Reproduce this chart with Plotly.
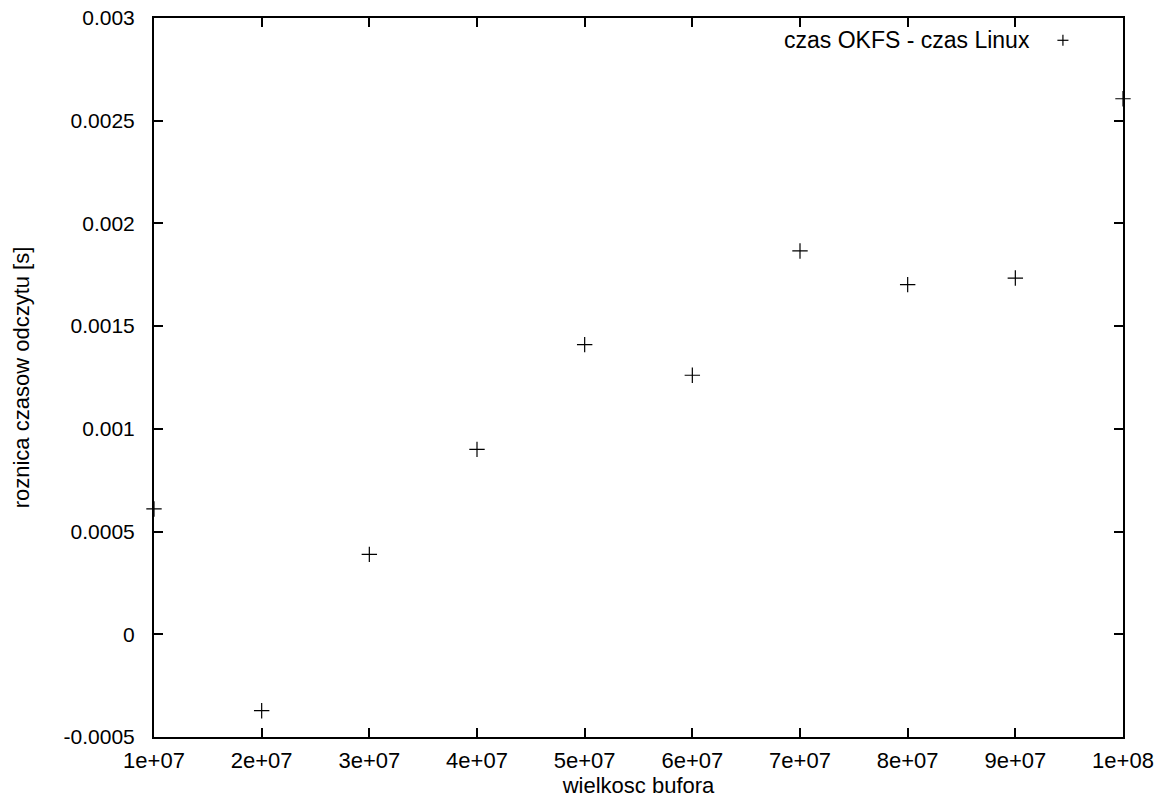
import plotly.graph_objects as go

buffer_sizes = [1e7, 2e7, 3e7, 4e7, 5e7, 6e7, 7e7, 8e7, 9e7, 1e8]
time_diff = [0.000610, -0.000372, 0.000389, 0.000900, 0.001410, 0.001261,
             0.001866, 0.001702, 0.001734, 0.002607]

x_tickvals = [1e7, 2e7, 3e7, 4e7, 5e7, 6e7, 7e7, 8e7, 9e7, 1e8]
x_ticktext = ["1e+07", "2e+07", "3e+07", "4e+07", "5e+07", "6e+07", "7e+07", "8e+07", "9e+07", "1e+08"]
y_tickvals = [-0.0005, 0, 0.0005, 0.001, 0.0015, 0.002, 0.0025, 0.003]
y_ticktext = ["-0.0005", "0", "0.0005", "0.001", "0.0015", "0.002", "0.0025", "0.003"]
series_name = "czas OKFS - czas Linux"

FONT = "Liberation Sans, Arial, sans-serif"
FS = 22

fig = go.Figure()
fig.add_trace(go.Scatter(
    x=buffer_sizes, y=time_diff, mode="markers", name=series_name,
    showlegend=False, cliponaxis=False,
    marker=dict(symbol="cross-thin", size=11, color="black",
                line=dict(color="black", width=1.2)),
))

axis_common = dict(
    showgrid=False, zeroline=False, showline=True, linecolor="black", linewidth=2,
    mirror="ticks", ticks="inside", ticklen=9, tickwidth=1.5, tickcolor="black",
    automargin=False,
)

fig.update_layout(
    width=1170, height=804,
    margin=dict(l=154, r=47, t=18, b=67),
    paper_bgcolor="white", plot_bgcolor="white",
    font=dict(family=FONT, size=FS, color="black"),
    xaxis=dict(range=[1e7, 1e8], tickvals=x_tickvals, ticktext=x_ticktext,
               tickfont=dict(family=FONT, size=22, color="black"),
               title=dict(text="wielkosc bufora", font=dict(family=FONT, size=FS), standoff=1),
               ticklabelstandoff=3, **axis_common),
    yaxis=dict(range=[-0.0005, 0.003], tickvals=y_tickvals, ticktext=y_ticktext,
               tickfont=dict(family=FONT, size=21, color="black"),
               title=dict(text="roznica czasow odczytu [s]", font=dict(family=FONT, size=FS), standoff=28),
               ticklabelstandoff=13, **axis_common),
    showlegend=False,
)

# legend entry (gnuplot style: text, then key sample on the right)
fig.add_annotation(xref="paper", yref="paper", x=0.906, y=0.969, text=series_name,
                   showarrow=False, xanchor="right", yanchor="middle",
                   font=dict(family=FONT, size=23, color="black"))
kx, ky = 0.938, 0.969
fig.add_shape(type="line", xref="paper", yref="paper", x0=kx - 0.0057, x1=kx + 0.0057, y0=ky, y1=ky,
              line=dict(color="black", width=1.2))
fig.add_shape(type="line", xref="paper", yref="paper", x0=kx, x1=kx, y0=ky - 0.0077, y1=ky + 0.0077,
              line=dict(color="black", width=1.2))

fig.write_html("out.html")
